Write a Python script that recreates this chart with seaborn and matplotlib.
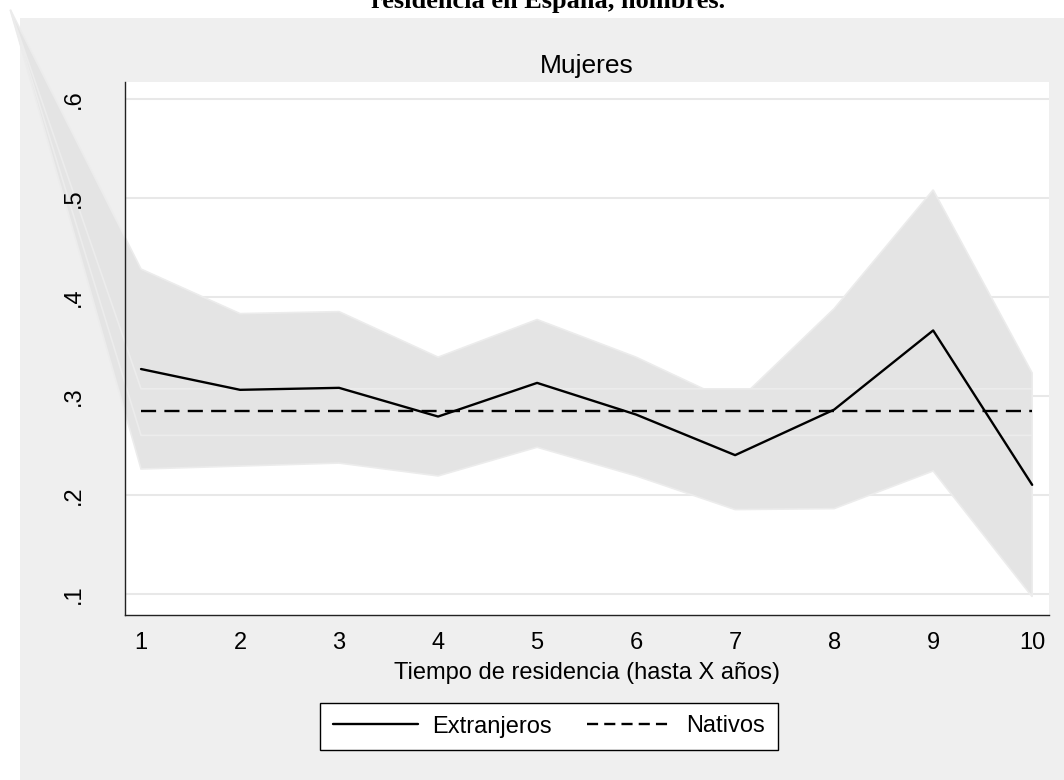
import numpy as np
import pandas as pd
import matplotlib
matplotlib.use("Agg")
import matplotlib.pyplot as plt
from matplotlib.patches import Rectangle
from matplotlib.lines import Line2D
import seaborn as sns

# --- data -----------------------------------------------------------------
years = [1, 2, 3, 4, 5, 6, 7, 8, 9, 10]
extranjeros = [0.327, 0.306, 0.308, 0.279, 0.313, 0.281, 0.240, 0.286, 0.366, 0.210]
extr_upper = [0.428, 0.383, 0.385, 0.339, 0.377, 0.339, 0.292, 0.388, 0.508, 0.323]
extr_lower = [0.226, 0.229, 0.232, 0.219, 0.248, 0.219, 0.185, 0.186, 0.224, 0.097]
nativos = [0.285, 0.285, 0.285, 0.285, 0.285, 0.285, 0.285, 0.285, 0.285, 0.285]
nat_upper = [0.307, 0.307, 0.307, 0.307, 0.307, 0.307, 0.307, 0.307, 0.307, 0.307]
nat_lower = [0.260, 0.260, 0.260, 0.260, 0.260, 0.260, 0.260, 0.260, 0.260, 0.260]
# first vertex of both shaded areas (lies outside the plot region)
area_origin = (-0.32, 0.69)

yticks = [0.1, 0.2, 0.3, 0.4, 0.5, 0.6]
ytick_labels = [".1", ".2", ".3", ".4", ".5", ".6"]
series_names = ["Extranjeros", "Nativos"]

title_text = "residencia en España, hombres."
subtitle_text = "Mujeres"
xlabel_text = "Tiempo de residencia (hasta X años)"

# --- style ------------------------------------------------------------------
sns.set_theme(style="white")
plt.rcParams["font.family"] = ["Liberation Sans", "DejaVu Sans"]
plt.rcParams["axes.axisbelow"] = False
plt.rcParams["text.color"] = "black"

W, H = 1064, 780
fig = plt.figure(figsize=(W / 100, H / 100), dpi=100)
fig.patch.set_facecolor("white")

# grey graph region
fig.add_artist(Rectangle((20 / W, 0), 1.0, 1 - 18 / H, transform=fig.transFigure,
                         facecolor="#efefef", edgecolor="none", zorder=-5))

ax = fig.add_axes([125 / W, 1 - 615 / H, (1049 - 125) / W, (615 - 82) / H])
ax.set_facecolor("white")
ax.set_axisbelow(False)

# horizontal grid lines, kept underneath the shaded areas
for yv in yticks:
    ax.axhline(yv, color="#e8e8e8", linewidth=1.5, zorder=0.5)

# --- confidence areas ---------------------------------------------------------
band_fill = "#e4e4e4"
band_edge = "#ececec"

def shaded_area(upper, lower):
    xs = [area_origin[0]] + years + years[::-1]
    ys = [area_origin[1]] + upper + lower[::-1]
    polys = ax.fill(xs, ys, facecolor=band_fill, edgecolor=band_edge,
                    linewidth=1.2, zorder=1)
    for p in polys:
        p.set_clip_on(False)

shaded_area(extr_upper, extr_lower)
shaded_area(nat_upper, nat_lower)

# --- lines ------------------------------------------------------------------
df = pd.DataFrame({
    "anio": years + years,
    "valor": extranjeros + nativos,
    "grupo": [series_names[0]] * len(years) + [series_names[1]] * len(years),
})
sns.lineplot(data=df, x="anio", y="valor", style="grupo",
             dashes={series_names[0]: "", series_names[1]: (6.4, 3.5)},
             color="black", linewidth=1.7, legend=False, ax=ax, zorder=3)

# --- axes ---------------------------------------------------------------------
ax.set_xlim(0.838, 10.17)
ax.set_ylim(0.0785, 0.617)
ax.set_xticks(years)
ax.set_xticklabels([str(y) for y in years])
ax.set_yticks(yticks)
ax.set_yticklabels(ytick_labels, rotation=90, va="center")
ax.set_xlabel("")
ax.set_ylabel("")
ax.grid(False)

for side in ("top", "right"):
    ax.spines[side].set_visible(False)
for side in ("left", "bottom"):
    ax.spines[side].set_color("#222222")
    ax.spines[side].set_linewidth(1.0)
    ax.spines[side].set_zorder(4)

ax.tick_params(axis="both", which="major", direction="out", length=8, width=1.0,
               color="#222222", labelsize=17, labelcolor="black")
ax.tick_params(axis="y", pad=21)
ax.tick_params(axis="x", pad=4.5)
ax.xaxis.set_zorder(4)
ax.yaxis.set_zorder(4)

# --- texts ------------------------------------------------------------------
fig.text(548 / W, 1 - 8 / H, title_text, ha="center", va="baseline", color="black",
         fontsize=19, fontweight="bold", family=["Liberation Serif", "DejaVu Serif"])
fig.text(587 / W, 1 - 73 / H, subtitle_text, ha="center", va="baseline",
         fontsize=19, color="black")
fig.text(587 / W, 1 - 679 / H, xlabel_text, ha="center", va="baseline",
         fontsize=17, color="black")

# --- legend -----------------------------------------------------------------
handles = [
    Line2D([], [], color="black", linewidth=1.7),
    Line2D([], [], color="black", linewidth=1.7, dashes=(4.7, 2.6)),
]
leg = fig.legend(handles, series_names, loc="center",
                 bbox_to_anchor=(549 / W, 1 - 726.5 / H),
                 bbox_transform=fig.transFigure, ncol=2, fontsize=17,
                 frameon=True, fancybox=False, framealpha=1.0,
                 handlelength=3.6, handletextpad=0.6, columnspacing=1.5,
                 borderpad=0.55, borderaxespad=0, labelcolor="black")
leg.get_frame().set_edgecolor("black")
leg.get_frame().set_linewidth(1.0)
leg.get_frame().set_facecolor("white")

fig.savefig("out.png", dpi=100)
